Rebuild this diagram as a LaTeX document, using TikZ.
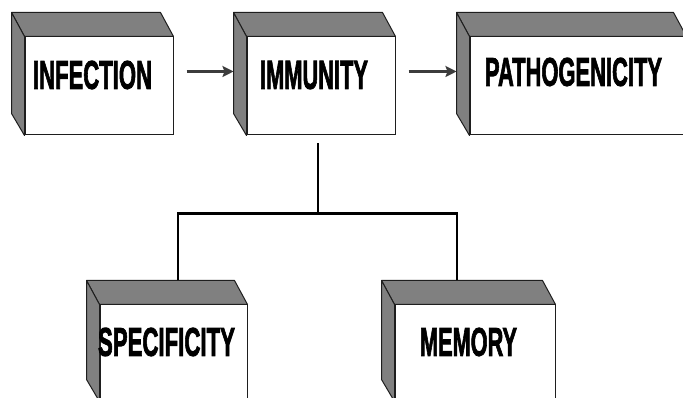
\documentclass[tikz,border=0pt]{standalone}
\usepackage{fontspec}
\usepackage{graphicx}
\setmainfont{Liberation Sans}[BoldFeatures={FakeBold=2.5}]
\usetikzlibrary{calc,arrows.meta}
\definecolor{facegray}{RGB}{128,128,128}
\definecolor{linecol}{RGB}{30,30,30}
\definecolor{arrcol}{RGB}{60,60,60}
\newcommand\lbl[2]{\resizebox{#1}{28pt}{\bfseries #2}}
\newcommand\boxfaces[1]{%
  \filldraw[face] (#1.north west) -- ++(-13,24) -- ($(#1.north east)+(-13,24)$) -- (#1.north east) -- cycle;
  \filldraw[face] (#1.north west) -- ++(-13,24) -- ($(#1.south west)+(-13,22)$) -- (#1.south west) -- cycle;}
\tikzset{
  front/.style={draw=linecol, fill=white, line width=1pt, minimum width=#1, minimum height=98pt, inner sep=0pt},
  face/.style={fill=facegray, draw=linecol, line width=1pt, line join=round},
  lab/.style={inner sep=0pt, text=black},
  arr/.style={draw=arrcol, line width=2.8pt, -{Stealth[length=11pt,width=11pt,inset=2pt]}},
  treeline/.style={draw=black, line width=1.6pt},
  treebar/.style={draw=black, line width=2.8pt}
}
\begin{document}
\begin{tikzpicture}[x=1pt,y=1pt]
\useasboundingbox (0,0) rectangle (683,398);
\clip (0,0) rectangle (683,398);
\fill[white] (0,0) rectangle (683,398);
% front faces
\node[front=148pt] (inf) at (99,312) {};
\node[front=148pt] (imm) at (321,312) {};
\node[front=216pt] (pat) at (578,312) {};
\node[front=147pt, minimum height=96pt] (spe) at (173.5,45) {};
\node[front=160pt, minimum height=96pt] (mem) at (475,45) {};
% side and top faces
\boxfaces{inf}
\boxfaces{imm}
\boxfaces{pat}
\boxfaces{spe}
\boxfaces{mem}
% labels
\node[lab] (linf) at (92.5,323) {\lbl{119pt}{INFECTION}};
\node[lab] (limm) at (314,323) {\lbl{108pt}{IMMUNITY}};
\node[lab] (lpat) at (573.5,326) {\lbl{177pt}{PATHOGENICITY}};
\node[lab] (lspe) at (166.5,56) {\lbl{137pt}{SPECIFICITY}};
\node[lab] (lmem) at (468.5,56) {\lbl{97pt}{MEMORY}};
% arrows
\draw[arr] ($(inf.north east)+(13,-35)$) -- ($(imm.north west)+(-13,-35)$);
\draw[arr] ($(imm.north east)+(13,-35)$) -- ($(pat.north west)+(-13,-35)$);
% tree
\coordinate (j) at ($(imm.south)+(-3,-78)$);
\coordinate (sp) at ($(spe.north)+(4.5,24)$);
\coordinate (mp) at ($(mem.north)+(-18,24)$);
\draw[treeline] ($(imm.south)+(-3,-8)$) -- (j);
\draw[treeline] (sp) -- (sp |- j);
\draw[treeline] (mp) -- (mp |- j);
\draw[treebar] ($(sp |- j)+(-0.8,0)$) -- ($(mp |- j)+(0.8,0)$);
\end{tikzpicture}
\end{document}
